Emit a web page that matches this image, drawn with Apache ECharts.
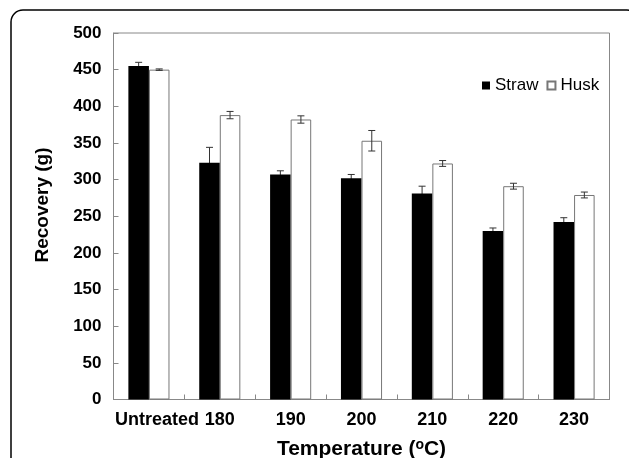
<!DOCTYPE html>
<html>
<head>
<meta charset="utf-8">
<script src="https://cdn.jsdelivr.net/npm/echarts@6/dist/echarts.min.js"></script>
<style>
html,body{margin:0;padding:0;background:#fff;}
#c{width:629px;height:458px;}
</style>
</head>
<body>
<div id="c"></div>
<script>
var categories = ['Untreated', '180', '190', '200', '210', '220', '230'];
var strawValues = [455, 323, 307, 302, 281, 230, 242];
var strawErrors = [5, 21, 5, 5, 10, 4, 6];
var huskValues = [450, 388, 382, 353, 322, 291, 279];
var huskErrors = [1, 5, 5, 14, 4, 4, 4];
var yTicks = [0, 50, 100, 150, 200, 250, 300, 350, 400, 450, 500];

var chart = echarts.init(document.getElementById('c'), null, {renderer: 'canvas'});
var FONT = 'Liberation Sans, Arial, sans-serif';
var CAT_GAP = 0.42;

function errorData(vals, errs) {
  return vals.map(function (v, i) { return [i, v, errs[i]]; });
}
function makeErrorRender(side) {
  return function (params, api) {
    var i = api.value(0), v = api.value(1), e = api.value(2);
    var band = api.size([1, 0])[0];
    var bw = band * (1 - CAT_GAP) / 2;
    var c = api.coord([i, v]);
    var x = c[0] + side * bw / 2;
    var top = api.coord([i, v + e])[1];
    var bot = api.coord([i, v - e])[1];
    var hw = 3.5;
    var style = {stroke: '#333', lineWidth: 1};
    return {
      type: 'group',
      children: [
        {type: 'line', shape: {x1: x, y1: top, x2: x, y2: bot}, style: style},
        {type: 'line', shape: {x1: x - hw, y1: top, x2: x + hw, y2: top}, style: style},
        {type: 'line', shape: {x1: x - hw, y1: bot, x2: x + hw, y2: bot}, style: style}
      ]
    };
  };
}

var catData = categories.map(function (c, i) {
  if (i === 0) return {value: c, textStyle: {padding: [0, 0, 0, 16]}};
  return c;
});

chart.setOption({
  animation: false,
  backgroundColor: '#fff',
  textStyle: {fontFamily: FONT},
  grid: {
    left: 113.5, right: 19.5, top: 33, bottom: 58.5,
    outerBoundsMode: 'none', containLabel: false,
    show: true, borderColor: '#888', borderWidth: 1, backgroundColor: 'transparent'
  },
  legend: {
    left: 477, top: 72,
    itemWidth: 8, itemHeight: 8, itemGap: 8,
    icon: 'rect',
    textStyle: {fontSize: 17, color: '#000', fontFamily: FONT},
    data: ['Straw', 'Husk']
  },
  xAxis: {
    type: 'category',
    data: catData,
    name: 'Temperature ({sup|o}C)',
    nameLocation: 'middle',
    nameGap: 39,
    nameTextStyle: {
      fontSize: 21, fontWeight: 'bold', color: '#000', fontFamily: FONT,
      rich: {sup: {fontSize: 14, fontWeight: 'bold', verticalAlign: 'top', padding: [0, 0, 8, 0], fontFamily: FONT, color: '#000'}}
    },
    axisLine: {lineStyle: {color: '#888', width: 1}},
    axisTick: {show: true, inside: true, length: 5, lineStyle: {color: '#888'}},
    axisLabel: {fontSize: 18, fontWeight: 'bold', color: '#000', margin: 12, fontFamily: FONT, interval: 0},
    splitLine: {show: false}
  },
  yAxis: {
    type: 'value',
    min: 0, max: 500, interval: 50,
    axisLine: {show: true, lineStyle: {color: '#888', width: 1}},
    axisTick: {show: true, inside: true, length: 5, lineStyle: {color: '#888'}},
    axisLabel: {
      fontSize: 17, fontWeight: 'bold', color: '#000', margin: 12, fontFamily: FONT,
      formatter: function (v) { return yTicks.indexOf(v) >= 0 ? String(v) : ''; }
    },
    splitLine: {show: false}
  },
  graphic: [
    {
      type: 'rect', silent: true, z: 100,
      shape: {x: 11, y: 10, width: 628, height: 480, r: 12},
      style: {fill: 'none', stroke: '#000', lineWidth: 1.5}
    },
    {
      type: 'text', z: 100,
      x: 43, y: 205, rotation: Math.PI / 2,
      style: {
        text: 'Recovery (g)', fontSize: 19, fontWeight: 'bold', fill: '#000', fontFamily: FONT,
        align: 'center', verticalAlign: 'middle'
      }
    }
  ],
  series: [
    {
      name: 'Straw', type: 'bar', data: strawValues, z: 2,
      barGap: '0%', barCategoryGap: (CAT_GAP * 100) + '%',
      itemStyle: {color: '#000', borderColor: '#000', borderWidth: 0}
    },
    {
      name: 'Husk', type: 'bar', data: huskValues, z: 2,
      itemStyle: {color: '#fff', borderColor: '#777', borderWidth: 1}
    },
    {
      name: 'StrawErr', type: 'custom', z: 1, data: errorData(strawValues, strawErrors),
      renderItem: makeErrorRender(-1), encode: {x: 0, y: 1}, silent: true
    },
    {
      name: 'HuskErr', type: 'custom', z: 3, data: errorData(huskValues, huskErrors),
      renderItem: makeErrorRender(1), encode: {x: 0, y: 1}, silent: true
    }
  ]
});
</script>
</body>
</html>
